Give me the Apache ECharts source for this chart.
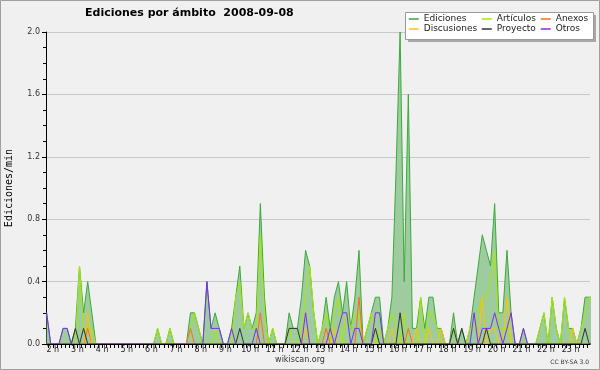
<!DOCTYPE html>
<html>
<head>
<meta charset="utf-8">
<script src="https://cdn.jsdelivr.net/npm/echarts@6/dist/echarts.min.js"></script>
<style>
html,body{margin:0;padding:0;background:#f0f0f0;}
#c{width:600px;height:370px;}
</style>
</head>
<body>
<div id="c"></div>
<script>
// Time axis in minutes of the day; samples are 10-minute bins centred at 01:45, 01:55, ...
const axisStartMin = 103.5, axisEndMin = 1427;
const firstSlotMin = 105, slotMinutes = 10;
const hourTicks = [2,3,4,5,6,7,8,9,10,11,12,13,14,15,16,17,18,19,20,21,22,23];
const yTicks = [0, 0.4, 0.8, 1.2, 1.6, 2.0];

// Values (ediciones/min), grouped roughly one hour per row
const ediciones = [0.2,0,
 0,0,0.1,0.1,0,0.1,
 0.5,0.2,0.4,0.2,0,0,
 0,0,0,0,0,0,
 0,0,0,0,0,0,
 0,0.1,0,0,0.1,0,
 0,0,0,0.2,0.2,0.1,
 0,0.4,0.1,0.2,0.1,0,
 0,0.1,0.3,0.5,0.1,0.2,
 0.1,0.2,0.9,0.3,0,0.1,
 0,0,0,0.2,0.1,0.1,
 0.3,0.6,0.5,0.2,0,0.1,
 0.3,0.1,0.3,0.4,0.2,0.4,
 0.1,0.3,0.6,0,0.1,0.2,
 0.3,0.3,0,0.1,0.3,1.1,
 2.0,0.4,1.6,0.1,0.1,0.3,
 0.1,0.3,0.3,0.1,0.1,0,
 0,0.2,0,0.1,0,0.1,
 0.3,0.5,0.7,0.6,0.5,0.9,
 0.2,0.2,0.6,0.2,0,0,
 0.1,0,0,0,0.1,0.2,
 0,0.3,0.1,0,0.3,0.1,
 0.1,0,0.1,0.3,0.3,0.3];
const articulos = [0,0,
 0,0,0,0,0,0,
 0.5,0.1,0.1,0.1,0,0,
 0,0,0,0,0,0,
 0,0,0,0,0,0,
 0,0.1,0,0,0.1,0,
 0,0,0,0.1,0.2,0.1,
 0,0,0,0.1,0,0,
 0,0,0.3,0.4,0.1,0.2,
 0.1,0.1,0.7,0.2,0,0.1,
 0,0,0,0.1,0,0,
 0.1,0.3,0.5,0.2,0,0.1,
 0.2,0,0.2,0.3,0,0.2,
 0.1,0.2,0.2,0,0.1,0.2,
 0,0.1,0,0.1,0.2,0.1,
 0,0.2,0,0,0,0.3,
 0,0.2,0.2,0.1,0,0,
 0,0.1,0,0,0,0.1,
 0.1,0.2,0.3,0.3,0.4,0.6,
 0.1,0.1,0.1,0,0,0,
 0,0,0,0,0.1,0.2,
 0,0.3,0.1,0,0.3,0.1,
 0,0,0.1,0.2,0.3,0.3];
const anexos = [0,0,
 0,0,0,0,0,0,
 0,0,0.1,0,0,0,
 0,0,0,0,0,0,
 0,0,0,0,0,0,
 0,0,0,0,0,0,
 0,0,0,0.1,0,0,
 0,0,0,0,0,0,
 0,0,0,0,0,0,
 0,0,0.2,0,0,0,
 0,0,0,0,0,0,
 0,0,0,0,0,0,
 0.1,0,0,0,0,0,
 0,0,0.3,0,0,0,
 0,0,0,0,0,0,
 0,0,0.1,0,0,0,
 0,0,0,0,0,0,
 0,0,0,0,0,0,
 0,0,0,0,0,0,
 0,0,0,0,0,0,
 0,0,0,0,0,0,
 0,0,0,0,0,0,
 0,0,0,0,0,0];
const discusiones = [0,0,
 0,0,0,0,0,0,
 0,0,0.2,0,0,0,
 0,0,0,0,0,0,
 0,0,0,0,0,0,
 0,0,0,0,0,0,
 0,0,0,0,0,0,
 0,0,0,0,0,0,
 0,0,0,0,0,0,
 0,0,0,0,0,0,
 0,0,0,0,0,0,
 0,0.1,0,0,0,0,
 0,0,0.1,0,0,0,
 0,0,0,0,0,0,
 0,0,0,0,0.1,0,
 0,0,0,0,0.1,0,
 0,0.1,0,0,0.1,0,
 0,0,0,0,0,0,
 0,0,0.3,0,0.1,0.1,
 0,0,0.3,0,0,0,
 0,0,0,0,0,0,
 0,0,0,0,0,0,
 0.1,0,0,0,0,0];
const proyecto = [0,0,
 0,0,0,0,0,0.1,
 0,0.1,0,0,0,0,
 0,0,0,0,0,0,
 0,0,0,0,0,0,
 0,0,0,0,0,0,
 0,0,0,0,0,0,
 0,0,0,0,0,0,
 0,0,0,0.1,0,0,
 0,0,0,0,0,0,
 0,0,0,0.1,0.1,0.1,
 0,0,0,0,0,0,
 0,0,0,0,0,0,
 0,0,0,0,0,0,
 0.1,0,0,0,0,0,
 0.2,0,0,0,0,0,
 0,0,0,0,0,0,
 0,0.1,0,0.1,0,0,
 0,0,0,0.1,0,0,
 0,0,0,0,0,0,
 0,0,0,0,0,0,
 0,0,0,0,0,0,
 0,0,0,0.1,0,0];
const otros = [0.2,0,
 0,0,0.1,0.1,0,0,
 0,0,0,0,0,0,
 0,0,0,0,0,0,
 0,0,0,0,0,0,
 0,0,0,0,0,0,
 0,0,0,0,0,0,
 0,0.4,0.1,0.1,0.1,0,
 0,0.1,0,0,0,0,
 0,0.1,0,0,0,0,
 0,0,0,0,0,0,
 0,0.2,0,0,0,0,
 0,0.1,0,0.1,0.2,0.2,
 0,0.1,0.1,0,0,0,
 0.2,0.2,0,0,0,0,
 0,0,0,0,0,0,
 0,0,0,0,0,0,
 0,0,0,0,0,0,
 0.2,0,0.1,0.1,0.1,0.2,
 0.1,0,0.1,0.2,0,0,
 0.1,0,0,0,0,0,
 0,0,0,0,0,0,
 0,0,0,0,0,0];

const FONT = 'DejaVu Sans';
function withTimes(vals) {
  return vals.map(function (v, i) { return [firstSlotMin + slotMinutes * i, v]; });
}
const tickMinutes = [];
for (let m = 110; m <= 1420; m += slotMinutes) tickMinutes.push(m);
const labelMinutes = hourTicks.map(function (h) { return h * 60; });

function lineSeries(name, data, color, extra) {
  return Object.assign({
    name: name, type: 'line', data: withTimes(data), symbol: 'none', showSymbol: false,
    lineStyle: {color: color, width: 1}, itemStyle: {color: color},
    animation: false, silent: true, clip: true
  }, extra || {});
}
const legendBase = {
  orient: 'vertical', top: 14, padding: 0, itemGap: 0, itemWidth: 10, itemHeight: 10,
  selectedMode: false,
  itemStyle: {opacity: 0, borderWidth: 0},
  lineStyle: {width: 1.5},
  textStyle: {fontFamily: FONT, fontSize: 9, color: '#222', lineHeight: 10}
};
const chart = echarts.init(document.getElementById('c'), null, {renderer: 'canvas'});
chart.setOption({
  backgroundColor: '#f0f0f0',
  animation: false,
  title: {
    text: 'Ediciones por ámbito  2008-09-08', left: 85, top: 8, padding: 0,
    textStyle: {fontFamily: FONT, fontSize: 11, fontWeight: 'bold', color: '#000'}
  },
  legend: [
    Object.assign({}, legendBase, {left: 408, data: ['Ediciones', 'Discusiones']}),
    Object.assign({}, legendBase, {left: 481, data: ['Artículos', 'Proyecto']}),
    Object.assign({}, legendBase, {left: 540, data: ['Anexos', 'Otros']})
  ],
  grid: {left: 46, right: 10, top: 32, bottom: 26, containLabel: false, outerBoundsMode: 'none'},
  xAxis: {
    type: 'value', min: axisStartMin, max: axisEndMin, z: 10,
    axisLine: {show: true, onZero: false, lineStyle: {color: '#000', width: 1}},
    axisTick: {show: true, customValues: tickMinutes, length: 4, lineStyle: {color: '#000'}},
    axisLabel: {
      customValues: labelMinutes,
      formatter: function (v) { return Math.round(v / 60) + ' h'; },
      fontFamily: FONT, fontSize: 8, color: '#222', margin: 2
    },
    splitLine: {show: false}
  },
  yAxis: {
    type: 'value', min: yTicks[0], max: yTicks[yTicks.length - 1], interval: yTicks[1] - yTicks[0],
    name: 'Ediciones/min', nameLocation: 'middle', nameRotate: 90, nameGap: 32,
    nameTextStyle: {fontFamily: 'DejaVu Sans Mono', fontSize: 10, color: '#000'},
    axisLine: {show: true, onZero: false, lineStyle: {color: '#000', width: 1}},
    axisTick: {show: true, length: 4, lineStyle: {color: '#000'}},
    minorTick: {show: true, splitNumber: 4, length: 3, lineStyle: {color: '#000'}},
    splitLine: {show: true, lineStyle: {color: '#c8c8c8', width: 1}},
    axisLabel: {
      formatter: function (v) { return v.toFixed(1); },
      fontFamily: FONT, fontSize: 8, color: '#333', margin: 6
    }
  },
  graphic: [
    {type: 'rect', z: -10, silent: true, shape: {x: 0.5, y: 0.5, width: 599, height: 369}, style: {fill: 'none', stroke: '#a0a0a0', lineWidth: 1}},
    {type: 'rect', z: 0, silent: true, shape: {x: 408, y: 15, width: 188, height: 27}, style: {fill: '#a8a8a8'}},
    {type: 'rect', z: 1, silent: true, shape: {x: 405.5, y: 12.5, width: 188, height: 27}, style: {fill: '#ffffff', stroke: '#999', lineWidth: 1}},
    {type: 'text', silent: true, x: 300, y: 360, style: {text: 'wikiscan.org', fill: '#333', font: '8px "DejaVu Sans"', align: 'center', verticalAlign: 'middle'}},
    {type: 'text', silent: true, x: 589, y: 362, style: {text: 'CC BY-SA 3.0', fill: '#333', font: '6px "DejaVu Sans"', align: 'right', verticalAlign: 'middle'}}
  ],
  series: [
    lineSeries('Ediciones', ediciones, '#3aaa3a', {areaStyle: {color: '#9fcc9f', opacity: 1}}),
    lineSeries('Artículos', articulos, '#a8e800'),
    lineSeries('Anexos', anexos, '#ff6a1a'),
    lineSeries('Discusiones', discusiones, '#ffc400'),
    lineSeries('Proyecto', proyecto, '#333333'),
    lineSeries('Otros', otros, '#7f2bf0')
  ]
});
</script>
</body>
</html>
